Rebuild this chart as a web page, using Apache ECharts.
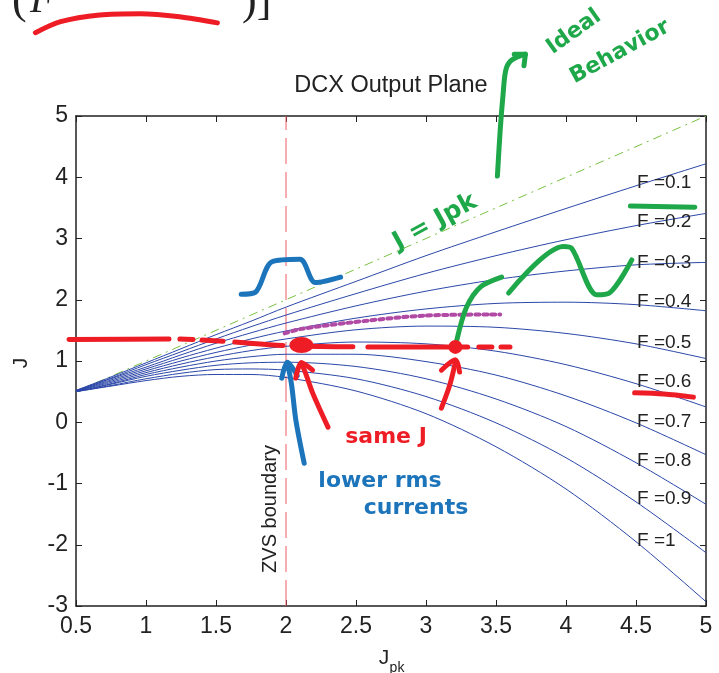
<!DOCTYPE html>
<html>
<head>
<meta charset="utf-8">
<script src="https://cdn.jsdelivr.net/npm/echarts@6/dist/echarts.min.js"></script>
<style>
html, body { margin: 0; padding: 0; background: #fff; }
#main { width: 719px; height: 673px; }
</style>
</head>
<body>
<div id="main"></div>
<script>
// Jpk sample points (x axis)
var jpk = [0.5, 0.75, 1, 1.25, 1.5, 1.75, 2, 2.5, 3, 3.5, 4, 4.5, 5];

// J for each F curve
var jF01 = [0.52, 0.74, 0.97, 1.20, 1.43, 1.65, 1.88, 2.30, 2.72, 3.11, 3.49, 3.86, 4.22];
var jF02 = [0.52, 0.72, 0.94, 1.15, 1.36, 1.56, 1.75, 2.10, 2.43, 2.72, 2.98, 3.21, 3.41];
var jF03 = [0.51, 0.71, 0.90, 1.10, 1.29, 1.46, 1.62, 1.90, 2.14, 2.33, 2.47, 2.57, 2.61];
var jF04 = [0.51, 0.69, 0.87, 1.05, 1.21, 1.36, 1.49, 1.70, 1.85, 1.94, 1.96, 1.92, 1.82];
var jF05 = [0.51, 0.67, 0.84, 1.00, 1.14, 1.26, 1.36, 1.51, 1.57, 1.55, 1.45, 1.28, 1.04];
var jF06 = [0.51, 0.65, 0.81, 0.95, 1.07, 1.17, 1.24, 1.31, 1.28, 1.16, 0.94, 0.63, 0.25];
var jF07 = [0.50, 0.63, 0.78, 0.90, 1.00, 1.07, 1.11, 1.11, 0.99, 0.77, 0.43, -0.01, -0.53];
var jF08 = [0.50, 0.62, 0.75, 0.85, 0.93, 0.97, 0.98, 0.91, 0.71, 0.38, -0.07, -0.66, -1.34];
var jF09 = [0.50, 0.60, 0.71, 0.80, 0.86, 0.87, 0.85, 0.71, 0.42, -0.01, -0.58, -1.30, -2.13];
var jF10 = [0.50, 0.59, 0.68, 0.75, 0.78, 0.78, 0.73, 0.51, 0.14, -0.40, -1.09, -1.95, -2.93];
var fCurves = [jF01, jF02, jF03, jF04, jF05, jF06, jF07, jF08, jF09, jF10];
var fNames = ['F =0.1', 'F =0.2', 'F =0.3', 'F =0.4', 'F =0.5', 'F =0.6', 'F =0.7', 'F =0.8', 'F =0.9', 'F =1'];

// ideal J = Jpk line and ZVS boundary
var idealJpk = [0.5, 5];
var idealJ = [0.5, 5];
var zvsJpk = [2, 2];
var zvsJ = [-3, 5];

// hand drawn marks, [Jpk, J]
var redDash = [[0.45, 1.35], [1.17, 1.36], [1.56, 1.32], [1.99, 1.25], [2.6, 1.23], [3.2, 1.23], [3.6, 1.23]];
var redDots = [[2.11, 1.26], [3.21, 1.23]];
var purpleDots = [[1.99, 1.45], [2.1, 1.52], [2.43, 1.62], [2.98, 1.74], [3.53, 1.76]];
var bluePulse = [[1.68, 2.09], [1.78, 2.12], [1.90, 2.62], [2.10, 2.66], [2.21, 2.28], [2.39, 2.37]];
var blueArrow = [[2.13, -0.67], [2.07, 0.04], [2.04, 0.61], [2.01, 0.97]];
var blueHead = [[1.97, 0.72], [2.01, 0.98], [2.08, 0.76]];
var redArrowA = [[2.30, -0.08], [2.19, 0.48], [2.14, 0.80], [2.11, 0.97]];
var redHeadA = [[2.07, 0.72], [2.11, 0.97], [2.19, 0.85]];
var redArrowB = [[3.11, 0.23], [3.17, 0.61], [3.21, 0.98]];
var redHeadB = [[3.11, 0.85], [3.21, 1.02], [3.24, 0.82]];
var greenCurve = [[3.22, 1.34], [3.29, 1.88], [3.39, 2.21], [3.54, 2.37]];
var greenWiggle = [[3.59, 2.11], [3.98, 2.87], [4.04, 2.84], [4.22, 2.08], [4.31, 2.11], [4.47, 2.65]];
var greenBar = [[4.46, 3.53], [4.92, 3.51]];
var redBar = [[4.49, 0.48], [4.70, 0.46], [4.91, 0.41]];
var greenArrow = [[3.51, 4.02], [3.53, 4.77], [3.55, 5.34], [3.57, 5.75], [3.61, 5.91], [3.71, 6.01]];
var greenHead = [[3.63, 6.01], [3.71, 6.01], [3.70, 5.82]];
var redTop = [[0.21, 6.36], [0.39, 6.54], [0.67, 6.65], [0.96, 6.67], [1.24, 6.62], [1.51, 6.52]];

var chart = echarts.init(document.getElementById('main'));

var FONT = 'Liberation Sans, Arial, sans-serif';
var HAND = 'DejaVu Sans, sans-serif';
var RED = '#ee1d25';
var GREEN = '#1fa84a';
var BLUE = '#1c74bb';

// plot box in pixels
var plotL = 76, plotR = 706, plotT = 116, plotB = 606;
var W = 719, H = 673;
// hidden overlay grid: same scale, reaching to the page's left and top edges
var pxPerX = (plotR - plotL) / 4.5;
var pxPerY = (plotB - plotT) / 8;
var overXMin = 0.5 - plotL / pxPerX;
var overYMax = 5 + plotT / pxPerY;

function pairs(xs, ys) {
    return xs.map(function (x, i) { return [x, ys[i]]; });
}

function stroke(data, color, width, type) {
    return {
        type: 'line', data: data, symbol: 'none', smooth: 0.3, clip: false, silent: true, z: 6,
        xAxisIndex: 2, yAxisIndex: 2,
        lineStyle: { color: color, width: width, type: type || 'solid', cap: 'round', join: 'round' }
    };
}

var series = [];
fCurves.forEach(function (c, i) {
    series.push({
        name: fNames[i], type: 'line', data: pairs(jpk, c), symbol: 'none', smooth: 0.3,
        lineStyle: { color: '#2b47a8', width: 1 }, z: 3
    });
});
series.push({
    type: 'line', data: pairs(idealJpk, idealJ), symbol: 'none',
    lineStyle: { color: '#7ac143', width: 1, type: [9, 5, 2, 5] }, z: 2
});
series.push({
    type: 'line', data: pairs(zvsJpk, zvsJ), symbol: 'none',
    lineStyle: { color: '#f05a64', width: 1, type: [26, 8] }, z: 2
});

series.push(stroke(redDash, RED, 5, [100, 11, 13, 9, 21, 12, 48, 10, 60, 15]));
series.push(stroke(purpleDots, '#b14aa5', 4, [4, 4]));
series.push(stroke(bluePulse, BLUE, 5));
series.push(stroke(blueArrow, BLUE, 5));
series.push(stroke(blueHead, BLUE, 5));
series.push(stroke(redArrowA, RED, 5));
series.push(stroke(redHeadA, RED, 5));
series.push(stroke(redArrowB, RED, 5));
series.push(stroke(redHeadB, RED, 5));
series.push(stroke(greenCurve, GREEN, 5));
series.push(stroke(greenWiggle, GREEN, 5));
series.push(stroke(greenBar, GREEN, 5));
series.push(stroke(redBar, RED, 5));
series.push(stroke(greenArrow, GREEN, 5));
series.push(stroke(greenHead, GREEN, 5));
series.push(stroke(redTop, RED, 5));
series.push({
    type: 'scatter', data: [redDots[0]], symbol: 'circle', symbolSize: [24, 16], silent: true, z: 7,
    xAxisIndex: 2, yAxisIndex: 2, itemStyle: { color: RED, opacity: 1 }
});
series.push({
    type: 'scatter', data: [redDots[1]], symbol: 'circle', symbolSize: 14, silent: true, z: 7,
    xAxisIndex: 2, yAxisIndex: 2, itemStyle: { color: RED, opacity: 1 }
});

var graphic = [
    { type: 'text', x: 391, y: 86, style: { text: 'DCX Output Plane', font: '23.5px ' + FONT, fill: '#222', align: 'center', verticalAlign: 'middle' } },
    { type: 'text', x: 384, y: 658, style: { text: 'J', font: '21px ' + FONT, fill: '#222', align: 'center', verticalAlign: 'middle' } },
    { type: 'text', x: 397, y: 668, style: { text: 'pk', font: '14px ' + FONT, fill: '#222', align: 'center', verticalAlign: 'middle' } },
    { type: 'text', x: 21, y: 363, rotation: Math.PI / 2, style: { text: 'J', font: '21px ' + FONT, fill: '#222', align: 'center', verticalAlign: 'middle' } },
    { type: 'text', x: 270, y: 509, rotation: Math.PI / 2, style: { text: 'ZVS boundary', font: '20px ' + FONT, fill: '#222', align: 'center', verticalAlign: 'middle' } },
    // cropped formula at the top
    { type: 'text', x: 12, y: 1, style: { text: '(', font: '44px Liberation Serif, serif', fill: '#222', align: 'left', verticalAlign: 'middle' } },
    { type: 'text', x: 30, y: 1, style: { text: 'F', font: 'italic 40px Liberation Serif, serif', fill: '#222', align: 'left', verticalAlign: 'middle' } },
    { type: 'text', x: 242, y: 2, style: { text: ')]', font: '44px Liberation Serif, serif', fill: '#222', align: 'left', verticalAlign: 'middle' } },
    // handwriting
    { type: 'text', x: 574, y: 32, rotation: 0.62, style: { text: 'Ideal', font: 'bold 22px ' + HAND, fill: GREEN, align: 'center', verticalAlign: 'middle' } },
    { type: 'text', x: 620, y: 52, rotation: 0.5, style: { text: 'Behavior', font: 'bold 22px ' + HAND, fill: GREEN, align: 'center', verticalAlign: 'middle' } },
    { type: 'text', x: 435, y: 222, rotation: 0.5, style: { text: 'J = Jpk', font: 'bold 25px ' + HAND, fill: GREEN, align: 'center', verticalAlign: 'middle' } },
    { type: 'text', x: 386, y: 437, style: { text: 'same J', font: 'bold 22px ' + HAND, fill: RED, align: 'center', verticalAlign: 'middle' } },
    { type: 'text', x: 380, y: 481, style: { text: 'lower rms', font: 'bold 22px ' + HAND, fill: BLUE, align: 'center', verticalAlign: 'middle' } },
    { type: 'text', x: 416, y: 508, style: { text: 'currents', font: 'bold 22px ' + HAND, fill: BLUE, align: 'center', verticalAlign: 'middle' } }
];
var labelY = [183, 222, 263, 302, 343, 382, 422, 461, 499, 541];
fNames.forEach(function (n, i) {
    graphic.push({ type: 'text', x: 637, y: labelY[i], z: 10, style: { text: n, font: '19px ' + FONT, fill: '#222', align: 'left', verticalAlign: 'middle' } });
});

var tickStyle = { show: true, inside: true, length: 6, lineStyle: { color: '#222' } };
var lineStyle = { show: true, onZero: false, lineStyle: { color: '#222', width: 1.5 } };
var hidden = { show: false };

chart.setOption({
    animation: false,
    backgroundColor: '#fff',
    textStyle: { fontFamily: FONT },
    grid: [
        { left: plotL, right: W - plotR, top: plotT, bottom: H - plotB, containLabel: false },
        { left: 0, right: W - plotR, top: 0, bottom: H - plotB, containLabel: false }
    ],
    xAxis: [
        { type: 'value', min: 0.5, max: 5, interval: 0.5, position: 'bottom', axisLine: lineStyle, axisTick: tickStyle, splitLine: { show: false },
          axisLabel: { fontSize: 23, color: '#222', margin: 9 } },
        { type: 'value', min: 0.5, max: 5, interval: 0.5, position: 'top', axisLine: lineStyle, axisTick: tickStyle, splitLine: { show: false },
          axisLabel: { show: false } },
        { type: 'value', gridIndex: 1, min: overXMin, max: 5, show: false, axisLine: hidden, axisTick: hidden, axisLabel: hidden, splitLine: hidden }
    ],
    yAxis: [
        { type: 'value', min: -3, max: 5, interval: 1, position: 'left', axisLine: lineStyle, axisTick: tickStyle, splitLine: { show: false },
          axisLabel: { fontSize: 23, color: '#222', margin: 8 } },
        { type: 'value', min: -3, max: 5, interval: 1, position: 'right', axisLine: lineStyle, axisTick: tickStyle, splitLine: { show: false },
          axisLabel: { show: false } },
        { type: 'value', gridIndex: 1, min: -3, max: overYMax, show: false, axisLine: hidden, axisTick: hidden, axisLabel: hidden, splitLine: hidden }
    ],
    series: series,
    graphic: graphic
});
</script>
</body>
</html>
